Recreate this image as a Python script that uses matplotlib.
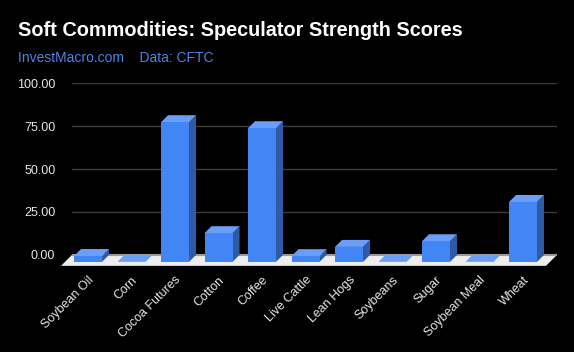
import matplotlib.pyplot as plt
from matplotlib.patches import Polygon, Rectangle

plt.rcParams['font.family'] = ['Liberation Sans', 'DejaVu Sans']

commodities = ["Soybean Oil", "Corn", "Cocoa Futures", "Cotton", "Coffee",
               "Live Cattle", "Lean Hogs", "Soybeans", "Sugar", "Soybean Meal", "Wheat"]
scores = [3.4, 0.0, 81.4, 16.7, 77.9, 3.3, 8.7, 0.0, 12.0, 0.0, 34.9]
y_ticks = [0, 25, 50, 75, 100]

W, H = 574, 352
fig = plt.figure(figsize=(W / 100, H / 100), dpi=100, facecolor="black")

# axes box in pixels (back wall of the 3d chart)
ax_left, ax_right, ax_top, ax_bottom = 72, 557, 83.3, 272
ax = fig.add_axes([ax_left / W, (H - ax_bottom) / H,
                   (ax_right - ax_left) / W, (ax_bottom - ax_top) / H])
ax.set_facecolor("black")
xmin, xmax = -0.53, 10.62
ymin, ymax = -10, 100
ax.set_xlim(xmin, xmax)
ax.set_ylim(ymin, ymax)

# pixel -> data unit conversion
px_x = (xmax - xmin) / (ax_right - ax_left)
px_y = (ymax - ymin) / (ax_bottom - ax_top)

bar_w = 28 * px_x
dx, dy = 7 * px_x, 7 * px_y          # bar depth
fx, fy = 11 * px_x, 11 * px_y        # floor depth

front_col = "#4285f4"
top_col = "#6a9ef7"
side_col = "#2f5ba6"

# gridlines on the back wall
for t in y_ticks[1:]:
    ax.axhline(t, color="#3c3c3c", lw=1, zorder=1)

# floor
floor = Polygon([(xmin, 0), (xmax, 0), (xmax - fx, -fy), (xmin - fx, -fy)],
                closed=True, facecolor="#eeeeee", edgecolor="none",
                zorder=2, clip_on=False)
ax.add_patch(floor)
ax.plot([xmin, xmax], [0, 0], color="#9a9a9a", lw=1.5, zorder=2.5,
        solid_capstyle="butt", clip_on=False)

for i, v in enumerate(scores):
    xl, xr = i - bar_w / 2, i + bar_w / 2
    side = Polygon([(xr, 0), (xr, v), (xr - dx, v - dy), (xr - dx, -dy)],
                   closed=True, facecolor=side_col, edgecolor="none", zorder=3)
    top = Polygon([(xl, v), (xr, v), (xr - dx, v - dy), (xl - dx, v - dy)],
                  closed=True, facecolor=top_col, edgecolor="none", zorder=3)
    front = Rectangle((xl - dx, -dy), bar_w, v, facecolor=front_col,
                      edgecolor="none", zorder=4)
    ax.add_patch(side)
    ax.add_patch(top)
    ax.add_patch(front)

ax.set_yticks(y_ticks)
ax.set_yticklabels([f"{t:.2f}" for t in y_ticks])
ax.set_xticks([i - dx for i in range(len(commodities))])
ax.set_xticklabels(commodities, rotation=45, ha="right", rotation_mode="anchor")
ax.tick_params(axis="both", length=0, colors="#e6e6e6", labelsize=9)
ax.tick_params(axis="y", pad=12)
ax.tick_params(axis="x", pad=1.5)
for s in ax.spines.values():
    s.set_visible(False)

fig.text(18 / W, 1 - 30 / H, "Soft Commodities: Speculator Strength Scores",
         color="white", fontsize=14.3, fontweight="bold", va="center", ha="left")
fig.text(18 / W, 1 - 57.5 / H, "InvestMacro.com    Data: CFTC",
         color="#4a86e8", fontsize=10, va="center", ha="left")

fig.savefig("out.png", dpi=100, facecolor="black")
